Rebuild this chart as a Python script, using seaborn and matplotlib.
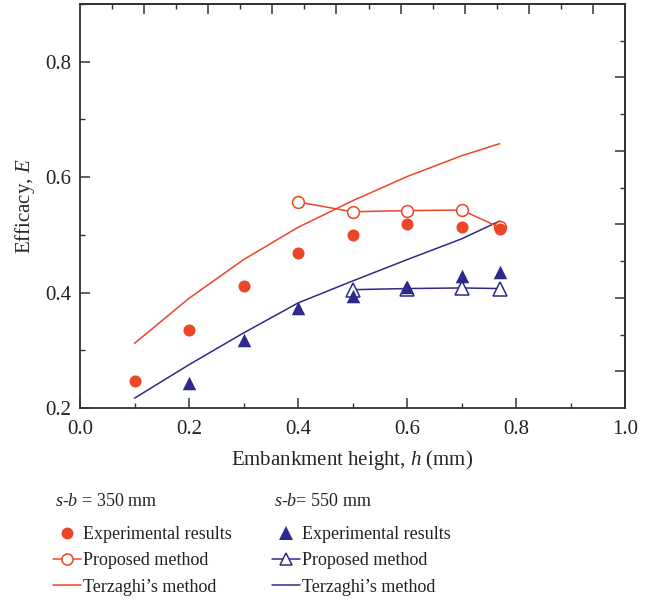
import matplotlib
matplotlib.use("Agg")
import matplotlib.pyplot as plt
import seaborn as sns
import numpy as np
import pandas as pd
from matplotlib.lines import Line2D
from matplotlib.ticker import FixedLocator, NullFormatter, FormatStrFormatter

# ---------------- data ----------------
h_exp_350 = [0.1, 0.2, 0.3, 0.4, 0.5, 0.6, 0.7, 0.77]
E_exp_350 = [0.247, 0.335, 0.411, 0.468, 0.500, 0.518, 0.513, 0.510]

h_prop_350 = [0.4, 0.5, 0.6, 0.7, 0.77]
E_prop_350 = [0.557, 0.540, 0.542, 0.543, 0.513]

h_terz = [0.1, 0.2, 0.3, 0.4, 0.5, 0.6, 0.7, 0.77]
E_terz_350 = [0.312, 0.390, 0.457, 0.513, 0.559, 0.601, 0.637, 0.658]

h_exp_550 = [0.2, 0.3, 0.4, 0.5, 0.6, 0.7, 0.77]
E_exp_550 = [0.244, 0.318, 0.373, 0.394, 0.410, 0.428, 0.435]

h_prop_550 = [0.5, 0.6, 0.7, 0.77]
E_prop_550 = [0.405, 0.407, 0.408, 0.407]

E_terz_550 = [0.217, 0.275, 0.330, 0.382, 0.420, 0.457, 0.493, 0.524]

legend_titles = ["$s$-$b$ = 350 mm", "$s$-$b$= 550 mm"]
legend_labels = ["Experimental results", "Proposed method", "Terzaghi\u2019s method"]

RED = "#EC4527"
BLUE = "#2D2A8C"

# ---------------- style ----------------
sns.set_style("ticks")
plt.rcParams["font.family"] = ["Liberation Serif", "DejaVu Serif"]
plt.rcParams["mathtext.fontset"] = "custom"
plt.rcParams["mathtext.rm"] = "Liberation Serif"
plt.rcParams["mathtext.it"] = "Liberation Serif:italic"
plt.rcParams["text.color"] = "#222222"

W, H = 656, 601
fig = plt.figure(figsize=(W / 100, H / 100), dpi=100)
ax = fig.add_axes([80 / W, 1 - 408 / H, (625 - 80) / W, (408 - 4) / H])

# Terzaghi lines
sns.lineplot(x=h_terz, y=E_terz_350, ax=ax, color=RED, lw=1.1, sort=False)
sns.lineplot(x=h_terz, y=E_terz_550, ax=ax, color=BLUE, lw=1.1, sort=False)
# Proposed method
sns.lineplot(x=h_prop_350, y=E_prop_350, ax=ax, color=RED, lw=1.1, sort=False,
             marker="o", markersize=8.5, markerfacecolor="white",
             markeredgecolor=RED, markeredgewidth=1.1)
sns.lineplot(x=h_prop_550, y=E_prop_550, ax=ax, color=BLUE, lw=1.1, sort=False,
             marker="^", markersize=9.5, markerfacecolor="white",
             markeredgecolor=BLUE, markeredgewidth=1.1)
# Experimental
sns.scatterplot(x=h_exp_350, y=E_exp_350, ax=ax, color=RED, marker="o",
                s=75, linewidth=0, zorder=4)
sns.scatterplot(x=h_exp_550, y=E_exp_550, ax=ax, color=BLUE, marker="^",
                s=95, linewidth=0, zorder=4)

ax.set_xlim(0.0, 1.0)
ax.set_ylim(0.2, 0.9)
ax.xaxis.set_major_locator(FixedLocator([0.0, 0.2, 0.4, 0.6, 0.8, 1.0]))
ax.xaxis.set_minor_locator(FixedLocator([0.1, 0.3, 0.5, 0.7, 0.9]))
ax.yaxis.set_major_locator(FixedLocator([0.2, 0.4, 0.6, 0.8]))
ax.yaxis.set_minor_locator(FixedLocator([0.3, 0.5, 0.7, 0.9]))
ax.xaxis.set_major_formatter(FormatStrFormatter("%.1f"))
ax.yaxis.set_major_formatter(FormatStrFormatter("%.1f"))

SPINE = "#333333"
for s in ax.spines.values():
    s.set_visible(True)
    s.set_color(SPINE)
    s.set_linewidth(1.3)
ax.tick_params(which="major", direction="in", length=7, width=1.1, color=SPINE,
               labelsize=15, labelcolor="#222222", top=False, right=False)
ax.tick_params(which="minor", direction="in", length=3.5, width=1.0, color=SPINE,
               top=False, right=False)
ax.tick_params(axis="x", which="major", pad=9)
ax.tick_params(axis="y", which="major", pad=6)

# top and right axes with their own tick spacing
top = ax.secondary_xaxis("top")
top.set_xticks([k / 17 for k in range(2, 17, 2)])
top.set_xticks([k / 17 for k in range(1, 17, 2)], minor=True)
top.xaxis.set_major_formatter(NullFormatter())
top.tick_params(which="major", direction="in", length=7, width=1.1, color=SPINE)
top.tick_params(which="minor", direction="in", length=3.5, width=1.0, color=SPINE)
top.spines["top"].set_color(SPINE)
top.spines["top"].set_linewidth(1.3)

right = ax.secondary_yaxis("right")
right.set_yticks([0.2 + k * 0.7 / 11 for k in range(1, 11, 2)])
right.set_yticks([0.2 + k * 0.7 / 11 for k in range(2, 11, 2)], minor=True)
right.yaxis.set_major_formatter(NullFormatter())
right.tick_params(which="major", direction="in", length=7, width=1.1, color=SPINE)
right.tick_params(which="minor", direction="in", length=3.5, width=1.0, color=SPINE)
right.spines["right"].set_color(SPINE)
right.spines["right"].set_linewidth(1.3)

ax.set_xlabel("Embankment height, $h$ (mm)", fontsize=15, labelpad=6)
ax.set_ylabel("Efficacy, $E$", fontsize=15, labelpad=6)

# ---------------- legends ----------------
def handles(color, marker, ms_fill, ms_open):
    return [
        Line2D([], [], color=color, marker=marker, linestyle="none",
               markersize=ms_fill, markeredgewidth=0),
        Line2D([], [], color=color, marker=marker, lw=1.1, markersize=ms_open,
               markerfacecolor="white", markeredgecolor=color, markeredgewidth=1.1),
        Line2D([], [], color=color, lw=1.1),
    ]

LEG_FS = 13
for i, (x0, color, marker, msf, mso) in enumerate(
        [(53, RED, "o", 8.5, 8), (272, BLUE, "^", 9.5, 9)]):
    fig.text(x0 / W + 0.003, 1 - 502 / H, legend_titles[i], fontsize=LEG_FS,
             ha="left", va="center")
    leg = fig.legend(handles(color, marker, msf, mso), legend_labels,
                     loc="upper left", bbox_to_anchor=(x0 / W, 1 - 526 / H),
                     frameon=False, fontsize=LEG_FS, handlelength=1.55,
                     handletextpad=0.1, labelspacing=0.52, borderpad=0,
                     borderaxespad=0)

fig.savefig("out.png", dpi=100)
